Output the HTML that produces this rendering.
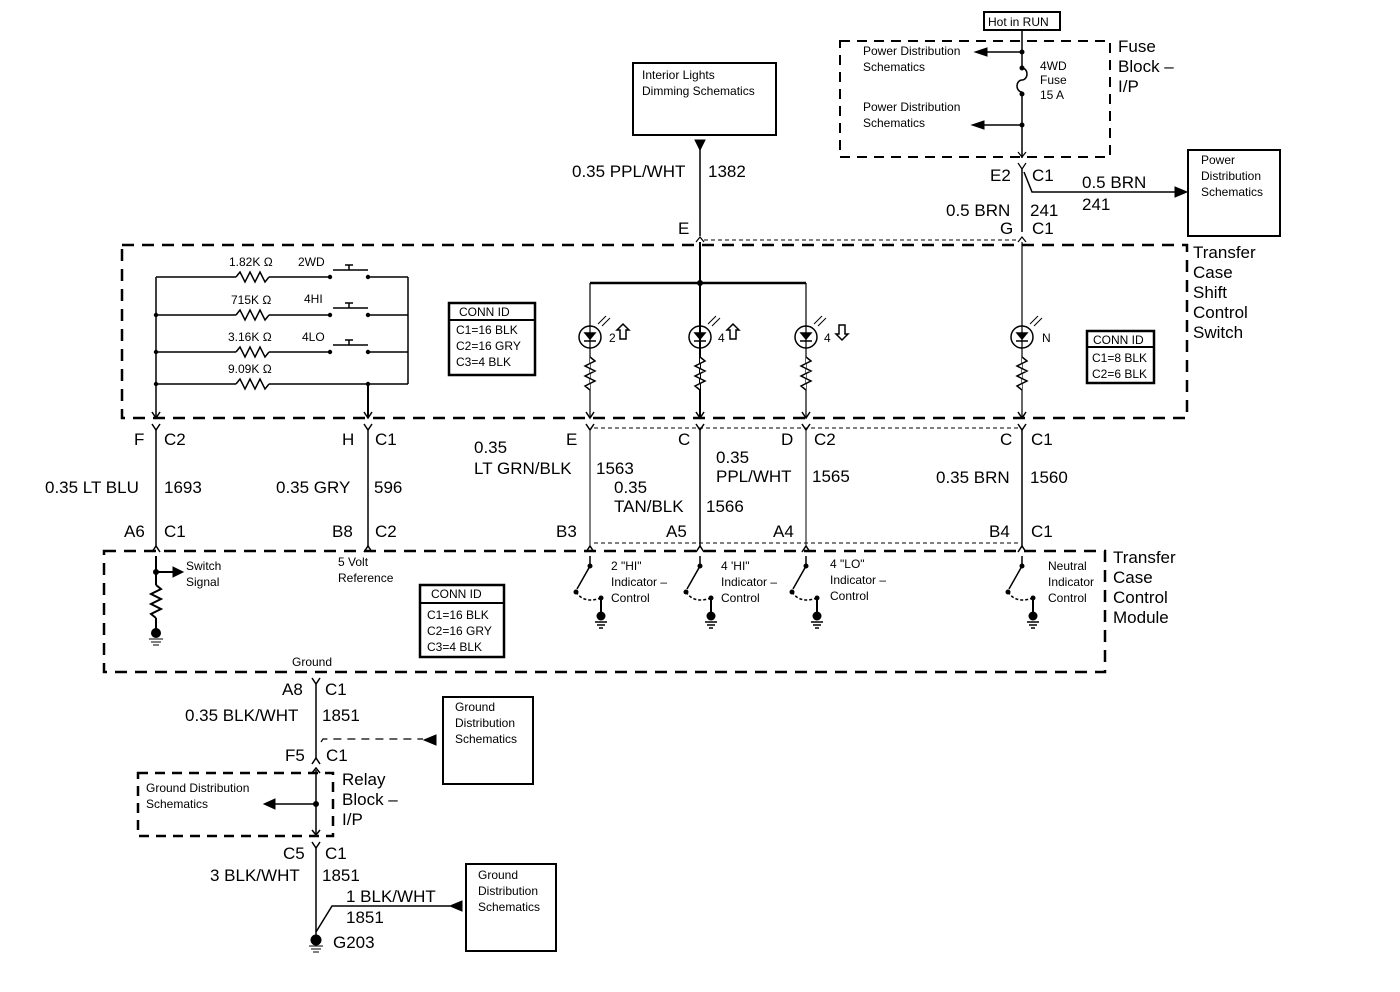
<!DOCTYPE html>
<html><head><meta charset="utf-8"><style>
html,body{margin:0;padding:0;background:#fff}
svg{display:block}
text{font-family:"Liberation Sans",Arial,sans-serif;fill:#000}
.s{font-size:12px}
.m{font-size:17px}
</style></head><body>
<svg width="1400" height="992" viewBox="0 0 1400 992" xmlns="http://www.w3.org/2000/svg" stroke="#000" fill="none">
<rect x="984" y="12" width="76" height="18" stroke-width="2"/>
<text x="988" y="26" class="s" stroke="none">Hot in RUN</text>
<rect x="840" y="41" width="270" height="116" stroke-width="2" stroke-dasharray="10,7"/>
<text x="1118" y="52" class="m" stroke="none">Fuse</text>
<text x="1118" y="72" class="m" stroke="none">Block –</text>
<text x="1118" y="92" class="m" stroke="none">I/P</text>
<line x1="1022" y1="30" x2="1022" y2="68" stroke-width="1.5"/>
<path d="M1022 68 a5 6 0 0 1 0 12 a5 6 0 0 0 0 12" stroke-width="1.5"/>
<line x1="1022" y1="92" x2="1022" y2="158" stroke-width="1.5"/>
<circle cx="1022" cy="52" r="2" fill="#000"/><circle cx="1022" cy="125" r="2" fill="#000"/>
<circle cx="1022" cy="68" r="2" fill="#000"/><circle cx="1022" cy="94" r="2" fill="#000"/>
<line x1="1022" y1="52" x2="985" y2="52" stroke-width="1.5"/><path d="M975 52 l12 -4 v8z" fill="#000"/>
<line x1="1022" y1="125" x2="982" y2="125" stroke-width="1.5"/><path d="M972 125 l12 -4 v8z" fill="#000"/>
<text x="863" y="55" class="s" stroke="none">Power Distribution</text>
<text x="863" y="71" class="s" stroke="none">Schematics</text>
<text x="863" y="111" class="s" stroke="none">Power Distribution</text>
<text x="863" y="127" class="s" stroke="none">Schematics</text>
<text x="1040" y="70" class="s" stroke="none">4WD</text>
<text x="1040" y="84" class="s" stroke="none">Fuse</text>
<text x="1040" y="99" class="s" stroke="none">15 A</text>
<path d="M1018 152 l4 5 l4 -5" stroke-width="1.2"/>
<path d="M1018 163 l4 6 l4 -6" stroke-width="1.2"/>
<line x1="1022" y1="169" x2="1022" y2="232" stroke-width="1.5"/>
<path d="M1024 172 l8 20 h145" stroke-width="1.5"/><path d="M1187 192 l-12 -5 v10z" fill="#000"/>
<text x="990" y="181" class="m" stroke="none">E2</text><text x="1032" y="181" class="m" stroke="none">C1</text>
<text x="1082" y="188" class="m" stroke="none">0.5 BRN</text>
<text x="1082" y="210" class="m" stroke="none">241</text>
<text x="946" y="216" class="m" stroke="none">0.5 BRN</text><text x="1030" y="216" class="m" stroke="none">241</text>
<text x="1000" y="234" class="m" stroke="none">G</text><text x="1032" y="234" class="m" stroke="none">C1</text>
<rect x="1188" y="150" width="92" height="86" stroke-width="2"/>
<text x="1201" y="164" class="s" stroke="none">Power</text>
<text x="1201" y="180" class="s" stroke="none">Distribution</text>
<text x="1201" y="196" class="s" stroke="none">Schematics</text>
<rect x="633" y="63" width="143" height="72" stroke-width="2"/>
<text x="642" y="79" class="s" stroke="none">Interior Lights</text>
<text x="642" y="95" class="s" stroke="none">Dimming Schematics</text>
<path d="M700 150 l-5 -10 h10z" fill="#000"/>
<line x1="700" y1="140" x2="700" y2="236" stroke-width="1.5"/>
<text x="572" y="177" class="m" stroke="none">0.35 PPL/WHT</text><text x="708" y="177" class="m" stroke="none">1382</text>
<text x="678" y="234" class="m" stroke="none">E</text>
<path d="M696 242 l4 -5 l4 5" stroke-width="1.2"/><path d="M1018 242 l4 -5 l4 5" stroke-width="1.2"/>
<line x1="704" y1="240" x2="1018" y2="240" stroke-dasharray="4,3"/>
<rect x="122" y="245" width="1065" height="173" stroke-width="2.5" stroke-dasharray="12,8"/>
<text x="1193" y="258" class="m" stroke="none">Transfer</text>
<text x="1193" y="278" class="m" stroke="none">Case</text>
<text x="1193" y="298" class="m" stroke="none">Shift</text>
<text x="1193" y="318" class="m" stroke="none">Control</text>
<text x="1193" y="338" class="m" stroke="none">Switch</text>
<g stroke-width="1.5">
<line x1="156" y1="277" x2="156" y2="418"/>
<line x1="408" y1="277" x2="408" y2="384"/>
<line x1="156" y1="277" x2="236" y2="277"/><path d="M236 277 l4 -5 l5 10 l5 -10 l5 10 l5 -10 l5 10 l4 -5"/><line x1="269" y1="277" x2="330" y2="277"/><line x1="368" y1="277" x2="408" y2="277"/>
<line x1="156" y1="315" x2="236" y2="315"/><path d="M236 315 l4 -5 l5 10 l5 -10 l5 10 l5 -10 l5 10 l4 -5"/><line x1="269" y1="315" x2="330" y2="315"/><line x1="368" y1="315" x2="408" y2="315"/>
<line x1="156" y1="352" x2="236" y2="352"/><path d="M236 352 l4 -5 l5 10 l5 -10 l5 10 l5 -10 l5 10 l4 -5"/><line x1="269" y1="352" x2="330" y2="352"/><line x1="368" y1="352" x2="408" y2="352"/>
<line x1="156" y1="384" x2="236" y2="384"/><path d="M236 384 l4 -5 l5 10 l5 -10 l5 10 l5 -10 l5 10 l4 -5"/><line x1="269" y1="384" x2="408" y2="384"/>
<line x1="368" y1="384" x2="368" y2="418" stroke-width="2"/>
<path d="M333 270 h35 M349 270 v-5 M345 265 h8"/>
<path d="M333 308 h35 M349 308 v-5 M345 303 h8"/>
<path d="M333 345 h35 M349 345 v-5 M345 340 h8"/>
</g>
<g fill="#000" stroke="none">
<circle cx="156" cy="315" r="2.2"/><circle cx="156" cy="352" r="2.2"/><circle cx="156" cy="384" r="2.2"/>
<circle cx="330" cy="277" r="2.2"/><circle cx="368" cy="277" r="2.2"/><circle cx="330" cy="315" r="2.2"/><circle cx="368" cy="315" r="2.2"/>
<circle cx="330" cy="352" r="2.2"/><circle cx="368" cy="352" r="2.2"/><circle cx="368" cy="384" r="2.2"/>
</g>
<text x="229" y="266" class="s" stroke="none">1.82K Ω</text><text x="298" y="266" class="s" stroke="none">2WD</text>
<text x="231" y="304" class="s" stroke="none">715K Ω</text><text x="304" y="303" class="s" stroke="none">4HI</text>
<text x="228" y="341" class="s" stroke="none">3.16K Ω</text><text x="302" y="341" class="s" stroke="none">4LO</text>
<text x="228" y="373" class="s" stroke="none">9.09K Ω</text>
<rect x="449" y="303" width="86" height="72" stroke-width="2.5"/><line x1="449" y1="320" x2="535" y2="320" stroke-width="2"/>
<text x="459" y="316" class="s" stroke="none">CONN ID</text>
<text x="456" y="334" class="s" stroke="none">C1=16 BLK</text>
<text x="456" y="350" class="s" stroke="none">C2=16 GRY</text>
<text x="456" y="366" class="s" stroke="none">C3=4 BLK</text>
<g stroke-width="1.2">
<line x1="700" y1="242" x2="700" y2="418" stroke-width="2"/>
<line x1="590" y1="283" x2="806" y2="283" stroke-width="2.5"/>
<line x1="590" y1="283" x2="590" y2="418"/><line x1="806" y1="283" x2="806" y2="418"/>
<line x1="1022" y1="242" x2="1022" y2="418"/>
</g>
<circle cx="700" cy="283" r="2.5" fill="#000"/>
<g stroke-width="1.5">
<circle cx="590" cy="337" r="11"/><circle cx="700" cy="337" r="11"/><circle cx="806" cy="337" r="11"/><circle cx="1022" cy="337" r="11"/>
<path d="M585 333 h10 l-5 6z M695 333 h10 l-5 6z M801 333 h10 l-5 6z M1017 333 h10 l-5 6z" fill="#000"/>
<path d="M584 341 h12 M694 341 h12 M800 341 h12 M1016 341 h12"/>
<path d="M598 324 l8 -8 M602 326 l8 -8 M708 324 l8 -8 M712 326 l8 -8 M814 324 l8 -8 M818 326 l8 -8 M1030 324 l8 -8 M1034 326 l8 -8" stroke-width="1"/>
<path d="M590 357 l5 4 l-10 5 l10 5 l-10 5 l10 5 l-10 5 l5 4 M700 357 l5 4 l-10 5 l10 5 l-10 5 l10 5 l-10 5 l5 4 M806 357 l5 4 l-10 5 l10 5 l-10 5 l10 5 l-10 5 l5 4 M1022 357 l5 4 l-10 5 l10 5 l-10 5 l10 5 l-10 5 l5 4" fill="#fff"/>
<path d="M629 330 l-6 -6 l-6 6 h3 v9 h6 v-9z M739 330 l-6 -6 l-6 6 h3 v9 h6 v-9z M848 334 l-6 6 l-6 -6 h3 v-9 h6 v9z"/>
</g>
<text x="609" y="342" class="s" stroke="none">2</text><text x="718" y="342" class="s" stroke="none">4</text><text x="824" y="342" class="s" stroke="none">4</text><text x="1042" y="342" class="s" stroke="none">N</text>
<rect x="1087" y="331" width="67" height="52" stroke-width="2.5"/><line x1="1087" y1="347" x2="1154" y2="347" stroke-width="2"/>
<text x="1093" y="344" class="s" stroke="none">CONN ID</text>
<text x="1092" y="362" class="s" stroke="none">C1=8 BLK</text>
<text x="1092" y="378" class="s" stroke="none">C2=6 BLK</text>
<g stroke-width="1.5">
<path d="M152 412 l4 6 l4 -6 M364 412 l4 6 l4 -6 M586 412 l4 6 l4 -6 M696 412 l4 6 l4 -6 M802 412 l4 6 l4 -6 M1018 412 l4 6 l4 -6"/>
<path d="M152 424 l4 6 l4 -6 M364 424 l4 6 l4 -6 M586 424 l4 6 l4 -6 M696 424 l4 6 l4 -6 M802 424 l4 6 l4 -6 M1018 424 l4 6 l4 -6"/>
<line x1="156" y1="430" x2="156" y2="546"/><line x1="368" y1="430" x2="368" y2="546"/>
<line x1="590" y1="430" x2="590" y2="546" stroke-width="1"/><line x1="700" y1="430" x2="700" y2="546"/>
<line x1="806" y1="430" x2="806" y2="546" stroke-width="1"/><line x1="1022" y1="430" x2="1022" y2="546"/>
<path d="M152 552 l4 -6 l4 6 M364 552 l4 -6 l4 6 M586 552 l4 -6 l4 6 M696 552 l4 -6 l4 6 M802 552 l4 -6 l4 6 M1018 552 l4 -6 l4 6"/>
</g>
<line x1="594" y1="428" x2="1018" y2="428" stroke-dasharray="4,3"/>
<line x1="594" y1="543" x2="1018" y2="543" stroke-dasharray="4,3"/>
<g class="m" stroke="none" font-size="17">
<text x="134" y="445">F</text><text x="164" y="445">C2</text>
<text x="342" y="445">H</text><text x="375" y="445">C1</text>
<text x="566" y="445">E</text><text x="678" y="445">C</text><text x="781" y="445">D</text><text x="814" y="445">C2</text>
<text x="1000" y="445">C</text><text x="1031" y="445">C1</text>
<text x="45" y="493">0.35 LT BLU</text><text x="164" y="493">1693</text>
<text x="276" y="493">0.35 GRY</text><text x="374" y="493">596</text>
<text x="474" y="453">0.35</text><text x="474" y="474">LT GRN/BLK</text><text x="596" y="474">1563</text>
<text x="614" y="493">0.35</text><text x="614" y="512">TAN/BLK</text><text x="706" y="512">1566</text>
<text x="716" y="463">0.35</text><text x="716" y="482">PPL/WHT</text><text x="812" y="482">1565</text>
<text x="936" y="483">0.35 BRN</text><text x="1030" y="483">1560</text>
<text x="124" y="537">A6</text><text x="164" y="537">C1</text>
<text x="332" y="537">B8</text><text x="375" y="537">C2</text>
<text x="556" y="537">B3</text><text x="666" y="537">A5</text><text x="773" y="537">A4</text>
<text x="989" y="537">B4</text><text x="1031" y="537">C1</text>
</g>
<rect x="104" y="551" width="1001" height="121" stroke-width="2.5" stroke-dasharray="12,8"/>
<text x="1113" y="563" class="m" stroke="none">Transfer</text>
<text x="1113" y="583" class="m" stroke="none">Case</text>
<text x="1113" y="603" class="m" stroke="none">Control</text>
<text x="1113" y="623" class="m" stroke="none">Module</text>
<g stroke-width="2">
<line x1="156" y1="556" x2="156" y2="585"/><line x1="156" y1="572" x2="174" y2="572"/>
<path d="M156 585 l5 4 l-10 5 l10 5 l-10 5 l10 5 l-10 5 l5 4"/>
<line x1="156" y1="618" x2="156" y2="630"/>
</g>
<path d="M183 572 l-10 -5 v10z" fill="#000"/><circle cx="156" cy="572" r="2.5" fill="#000"/>
<circle cx="156" cy="633" r="4.5" fill="#000"/><path d="M149 639 h14 M151 642 h10 M153 645 h6"/>
<text x="186" y="570" class="s" stroke="none">Switch</text><text x="186" y="586" class="s" stroke="none">Signal</text>
<text x="338" y="566" class="s" stroke="none">5 Volt</text><text x="338" y="582" class="s" stroke="none">Reference</text>
<rect x="420" y="585" width="84" height="72" stroke-width="2.5"/><line x1="420" y1="603" x2="504" y2="603" stroke-width="2"/>
<text x="431" y="598" class="s" stroke="none">CONN ID</text>
<text x="427" y="619" class="s" stroke="none">C1=16 BLK</text>
<text x="427" y="635" class="s" stroke="none">C2=16 GRY</text>
<text x="427" y="651" class="s" stroke="none">C3=4 BLK</text>
<text x="292" y="666" class="s" stroke="none">Ground</text>
<g stroke-width="1.5">
<path d="M590 556 v10 l-13 23 M700 556 v10 l-13 23 M806 556 v10 l-13 23 M1022 556 v10 l-13 23"/>
<path d="M576 592 q8 12 25 6 M686 592 q8 12 25 6 M792 592 q8 12 25 6 M1008 592 q8 12 25 6" stroke-dasharray="3,2"/>
<path d="M601 598 v15 M711 598 v15 M817 598 v15 M1033 598 v15" stroke-width="2"/>
<path d="M595 622 h12 M597 625 h8 M599 628 h4 M705 622 h12 M707 625 h8 M709 628 h4 M811 622 h12 M813 625 h8 M815 628 h4 M1027 622 h12 M1029 625 h8 M1031 628 h4"/>
</g>
<g fill="#000" stroke="none">
<circle cx="590" cy="566" r="2.5"/><circle cx="700" cy="566" r="2.5"/><circle cx="806" cy="566" r="2.5"/><circle cx="1022" cy="566" r="2.5"/>
<circle cx="576" cy="592" r="2.5"/><circle cx="686" cy="592" r="2.5"/><circle cx="792" cy="592" r="2.5"/><circle cx="1008" cy="592" r="2.5"/>
<circle cx="601" cy="598" r="2.5"/><circle cx="711" cy="598" r="2.5"/><circle cx="817" cy="598" r="2.5"/><circle cx="1033" cy="598" r="2.5"/>
<circle cx="601" cy="616" r="4.5"/><circle cx="711" cy="616" r="4.5"/><circle cx="817" cy="616" r="4.5"/><circle cx="1033" cy="616" r="4.5"/>
</g>
<g class="s" stroke="none">
<text x="611" y="570">2 "HI"</text><text x="611" y="586">Indicator –</text><text x="611" y="602">Control</text>
<text x="721" y="570">4 'HI"</text><text x="721" y="586">Indicator –</text><text x="721" y="602">Control</text>
<text x="830" y="568">4 "LO"</text><text x="830" y="584">Indicator –</text><text x="830" y="600">Control</text>
<text x="1048" y="570">Neutral</text><text x="1048" y="586">Indicator</text><text x="1048" y="602">Control</text>
</g>
<g stroke-width="1.5">
<path d="M312 678 l4 6 l4 -6"/>
<line x1="316" y1="684" x2="316" y2="758"/>
<path d="M312 764 l4 -6 l4 6"/>
<path d="M312 773 l4 -5 l4 5"/>
<line x1="316" y1="770" x2="316" y2="834"/>
<path d="M312 830 l4 5 l4 -5"/>
<path d="M312 842 l4 6 l4 -6"/>
<line x1="316" y1="848" x2="316" y2="936"/>
<path d="M316 932 l16 -26 h118"/>
<line x1="270" y1="804" x2="316" y2="804"/>
</g>
<path d="M321 742 l2 -3 h100" stroke-dasharray="8,6" stroke-width="1.2"/>
<path d="M424 740 l12 -5 v10z M264 804 l11 -5 v10z M450 906 l12 -5 v10z" fill="#000"/>
<circle cx="316" cy="804" r="2.5" fill="#000"/>
<circle cx="316" cy="940" r="5" fill="#000"/><path d="M309 946 h14 M311 949 h10 M313 952 h6"/>
<rect x="138" y="773" width="195" height="63" stroke-width="2.5" stroke-dasharray="10,7"/>
<text x="146" y="792" class="s" stroke="none">Ground Distribution</text>
<text x="146" y="808" class="s" stroke="none">Schematics</text>
<text x="342" y="785" class="m" stroke="none">Relay</text>
<text x="342" y="805" class="m" stroke="none">Block –</text>
<text x="342" y="825" class="m" stroke="none">I/P</text>
<rect x="443" y="697" width="90" height="87" stroke-width="2"/>
<text x="455" y="711" class="s" stroke="none">Ground</text>
<text x="455" y="727" class="s" stroke="none">Distribution</text>
<text x="455" y="743" class="s" stroke="none">Schematics</text>
<rect x="466" y="864" width="90" height="87" stroke-width="2"/>
<text x="478" y="879" class="s" stroke="none">Ground</text>
<text x="478" y="895" class="s" stroke="none">Distribution</text>
<text x="478" y="911" class="s" stroke="none">Schematics</text>
<g class="m" stroke="none">
<text x="282" y="695">A8</text><text x="325" y="695">C1</text>
<text x="185" y="721">0.35 BLK/WHT</text><text x="322" y="721">1851</text>
<text x="285" y="761">F5</text><text x="326" y="761">C1</text>
<text x="283" y="859">C5</text><text x="325" y="859">C1</text>
<text x="210" y="881">3 BLK/WHT</text><text x="322" y="881">1851</text>
<text x="346" y="902">1 BLK/WHT</text><text x="346" y="923">1851</text>
<text x="333" y="948">G203</text>
</g>
</svg>
</body></html>
